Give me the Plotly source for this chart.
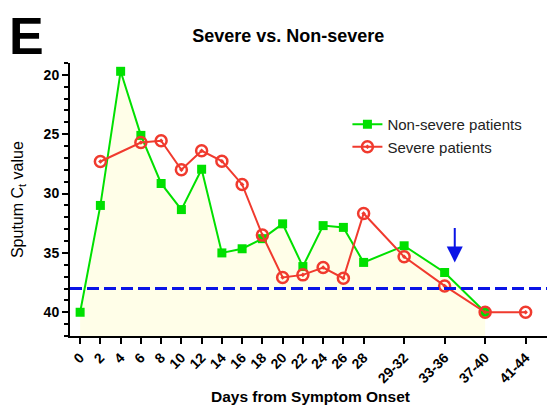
import plotly.graph_objects as go

# ---- data ----
days = [0, 2, 4, 6, 8, 10, 12, 14, 16, 18, 20, 22, 24, 26, 28, 32, 36, 40, 44]
tick_labels = ["0", "2", "4", "6", "8", "10", "12", "14", "16", "18", "20", "22",
               "24", "26", "28", "29-32", "33-36", "37-40", "41-44"]
non_severe = [40.0, 31.0, 19.7, 25.1, 29.15, 31.35, 27.95, 35.0, 34.65, 33.8, 32.55,
              36.15, 32.7, 32.85, 35.8, 34.4, 36.65, 40.0, None]
severe = [None, 27.3, None, 25.7, 25.55, 28.0, 26.4, 27.27, 29.23, 33.5, 37.07,
          36.85, 36.23, 37.13, 31.68, 35.33, 37.78, 40.0, 40.0]
cutoff = 38.0
arrow_day = 37.0
y_range = [42, 19]

GREEN = "#00E000"
RED = "#F03A2E"
BLUE = "#0A14E6"
FONT = "Liberation Sans, Arial, sans-serif"

ns_x = [d for d, v in zip(days, non_severe) if v is not None]
ns_y = [v for v in non_severe if v is not None]

fig = go.Figure()

# baseline for the area fill under the non-severe curve
fig.add_trace(go.Scatter(x=[min(ns_x), max(ns_x)], y=[y_range[0], y_range[0]],
                         mode="lines", line=dict(width=0), showlegend=False,
                         hoverinfo="skip"))
fig.add_trace(go.Scatter(x=ns_x, y=ns_y, mode="lines", line=dict(width=0),
                         fill="tonexty", fillcolor="#FFFEE8", showlegend=False,
                         hoverinfo="skip"))

fig.add_trace(go.Scatter(x=days, y=non_severe, name="Non-severe patients",
                         mode="lines+markers", connectgaps=True,
                         line=dict(color=GREEN, width=2),
                         marker=dict(symbol="square", size=9, color=GREEN)))
fig.add_trace(go.Scatter(x=days, y=severe, name="Severe patients",
                         mode="lines+markers", connectgaps=True,
                         line=dict(color=RED, width=2),
                         marker=dict(symbol="circle-open-dot", size=11, color=RED,
                                     line=dict(width=2.5, color=RED))))

fig.add_shape(type="line", xref="paper", x0=0, x1=1, yref="y", y0=cutoff, y1=cutoff,
              line=dict(color=BLUE, width=3, dash="12px,5px"))

fig.add_annotation(x=arrow_day, y=35.8, ax=0, ay=-36, xref="x", yref="y",
                   showarrow=True, arrowhead=2, arrowsize=1.6, arrowwidth=2,
                   arrowcolor=BLUE, text="")

fig.add_annotation(text="E", xref="paper", yref="paper", x=-0.09, y=1.1,
                   xanchor="center", yanchor="middle", showarrow=False,
                   font=dict(family=FONT, size=52, color="black", weight="bold"))
fig.add_annotation(text="Sputum C<sub>t</sub> value", xref="paper", yref="paper",
                   x=-0.106, y=0.5, textangle=-90, showarrow=False,
                   xanchor="center", yanchor="middle",
                   font=dict(family=FONT, size=16, color="black"))
fig.add_annotation(text="Days from Symptom Onset", xref="paper", yref="paper",
                   x=0.495, y=-0.22, showarrow=False,
                   xanchor="center", yanchor="middle",
                   font=dict(family=FONT, size=15.5, color="black", weight="bold"))

fig.update_layout(
    width=555, height=406,
    margin=dict(l=62, r=8, t=55, b=78, autoexpand=False),
    paper_bgcolor="white", plot_bgcolor="white",
    font=dict(family=FONT, color="black"),
    title=dict(text="Severe vs. Non-severe", x=0.505, xanchor="center",
               y=0.933, yanchor="middle",
               font=dict(family=FONT, size=18, color="black", weight="bold")),
    legend=dict(x=0.572, y=0.835, xanchor="left", yanchor="top", traceorder="normal",
                bgcolor="rgba(0,0,0,0)", font=dict(family=FONT, size=15, color="#222"),
                itemwidth=30, tracegroupgap=0),
    xaxis=dict(range=[-1, 46.9], tickmode="array", tickvals=days, ticktext=tick_labels,
               tickangle=-45, showgrid=False, zeroline=False, showline=True,
               linecolor="black", linewidth=2, ticks="outside", ticklen=6,
               tickwidth=2, tickcolor="black", layer="below traces", automargin=False,
               tickfont=dict(family=FONT, size=14, color="black", weight="bold")),
    yaxis=dict(range=y_range, tickmode="linear", tick0=20, dtick=5, automargin=False,
               showgrid=False, zeroline=False, showline=True,
               linecolor="black", linewidth=2, ticks="outside", ticklen=6,
               tickwidth=2, tickcolor="black",
               minor=dict(dtick=1, tick0=20, ticks="outside", ticklen=4,
                          tickwidth=2, tickcolor="black", showgrid=False),
               tickfont=dict(family=FONT, size=14, color="black", weight="bold")),
)

fig.write_html("out.html")
